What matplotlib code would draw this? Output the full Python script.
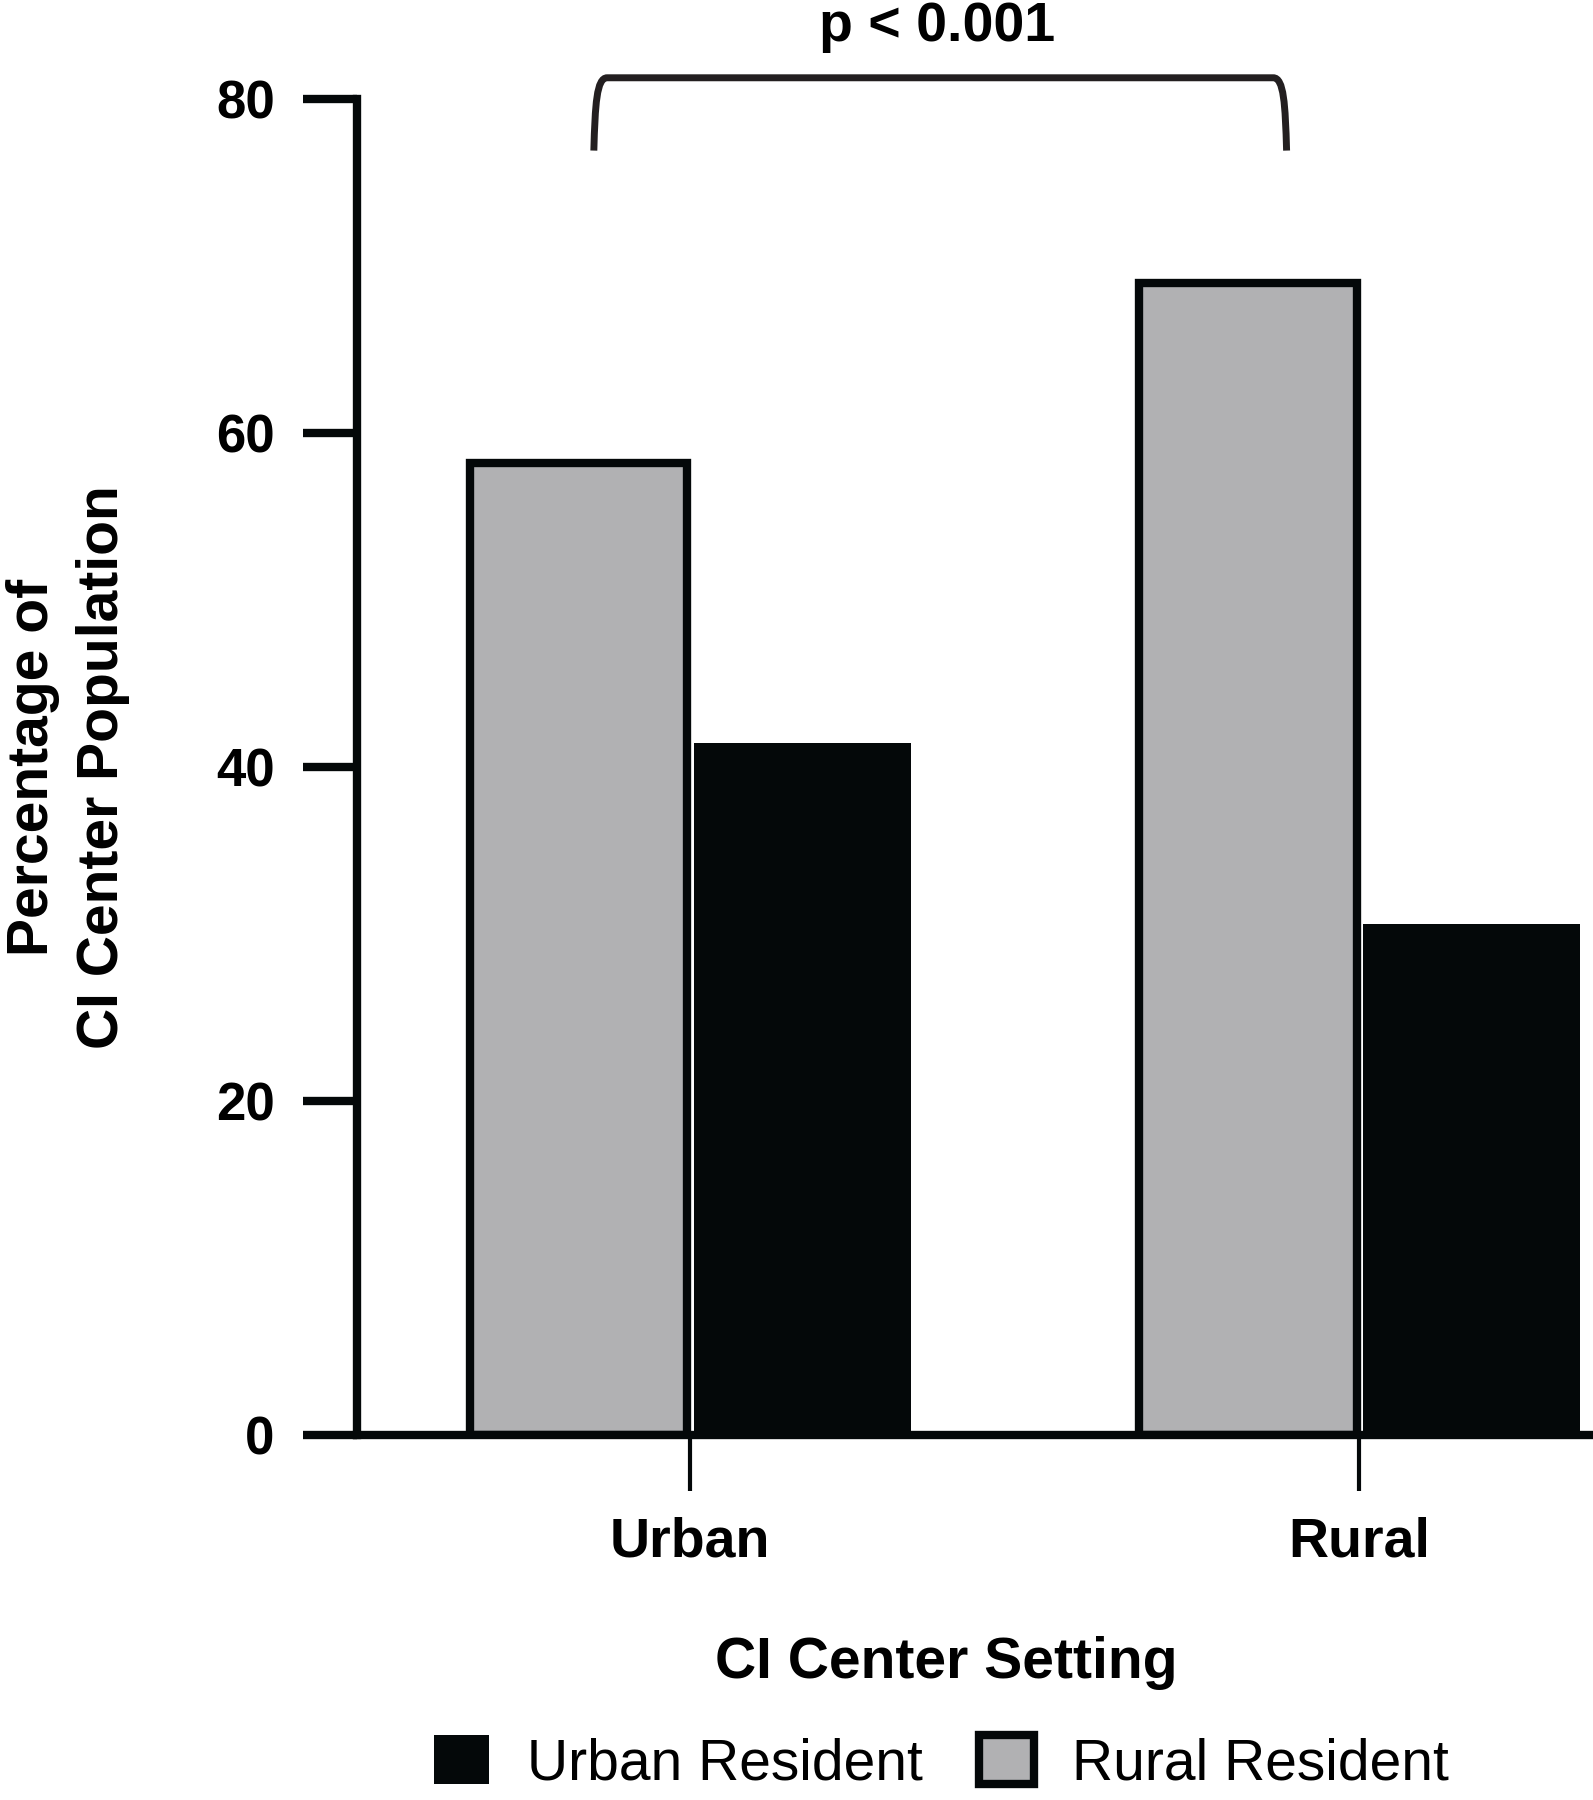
import matplotlib
matplotlib.use("Agg")
import matplotlib.pyplot as plt
from matplotlib.path import Path
from matplotlib.patches import PathPatch
import numpy as np

plt.rcParams['font.family'] = ['Liberation Sans', 'DejaVu Sans']
plt.rcParams['font.weight'] = 'bold'

# data
settings = ["Urban", "Rural"]
rural_resident = [58.2, 69.0]
urban_resident = [41.4, 30.6]
y_ticks = [0, 20, 40, 60, 80]
p_text = "p < 0.001"

GRAY = "#b1b1b3"
BLACK = "#040809"

fig = plt.figure(figsize=(15.93, 18), dpi=100)
ax = fig.add_axes([0.2239, 0.2029, 0.7761, 0.7422])

x = np.arange(len(settings))
width = 0.325
gray_bars = ax.bar(x - 0.166, rural_resident, width, color=GRAY,
                   edgecolor=BLACK, linewidth=6, label="Rural Resident", zorder=2)
black_bars = ax.bar(x + 0.168, urban_resident, width, color=BLACK,
                    linewidth=0, label="Urban Resident", zorder=2)

ax.set_xlim(-0.498, 1.35)
ax.set_ylim(0, 80)
ax.set_yticks(y_ticks)
ax.set_xticks(x)
ax.set_xticklabels(settings)

for side in ["top", "right"]:
    ax.spines[side].set_visible(False)
for side in ["left", "bottom"]:
    ax.spines[side].set_linewidth(6)
    ax.spines[side].set_color(BLACK)
    ax.spines[side].set_capstyle('projecting')

ax.tick_params(axis='y', length=39, width=6, pad=20, labelsize=38, color=BLACK)
ax.tick_params(axis='x', length=40, width=3, pad=19, labelsize=40, color=BLACK)

ax.set_xlabel("CI Center Setting", fontsize=41, fontweight='bold')
ax.xaxis.set_label_coords(0.4767, -0.1821)
ax.xaxis.label.set_va('baseline')

fig.text(68 / 1593, 1 - 767 / 1800, "Percentage of\nCI Center Population",
         rotation=90, ha='center', va='center', multialignment='center',
         fontsize=41, fontweight='bold', linespacing=1.4)

# significance bracket
xl, xr = -0.1435, 0.892
yb, yt = 76.9, 81.26
verts = [(xl, yb), (xl + 0.002, yt - 1.6), (xl + 0.004, yt), (xl + 0.02, yt),
         (xr - 0.02, yt),
         (xr - 0.004, yt), (xr - 0.002, yt - 1.6), (xr, yb)]
codes = [Path.MOVETO, Path.CURVE4, Path.CURVE4, Path.CURVE4,
         Path.LINETO,
         Path.CURVE4, Path.CURVE4, Path.CURVE4]
bracket = PathPatch(Path(verts, codes), fill=False, edgecolor="#231f20",
                    linewidth=5, clip_on=False, transform=ax.transData)
ax.add_patch(bracket)
ax.text(0.369, 83.47, p_text, ha='center', va='baseline', fontsize=40,
        fontweight='bold', clip_on=False)

fig.legend(handles=[black_bars, gray_bars],
           labels=["Urban Resident", "Rural Resident"],
           loc='center', bbox_to_anchor=(0.591, 0.0205), ncol=2,
           frameon=False, prop={'size': 41, 'weight': 'normal'},
           handlelength=0.96, handleheight=0.96, handletextpad=0.66,
           columnspacing=1.0, borderpad=0, borderaxespad=0)

fig.savefig("out.png", dpi=100)
